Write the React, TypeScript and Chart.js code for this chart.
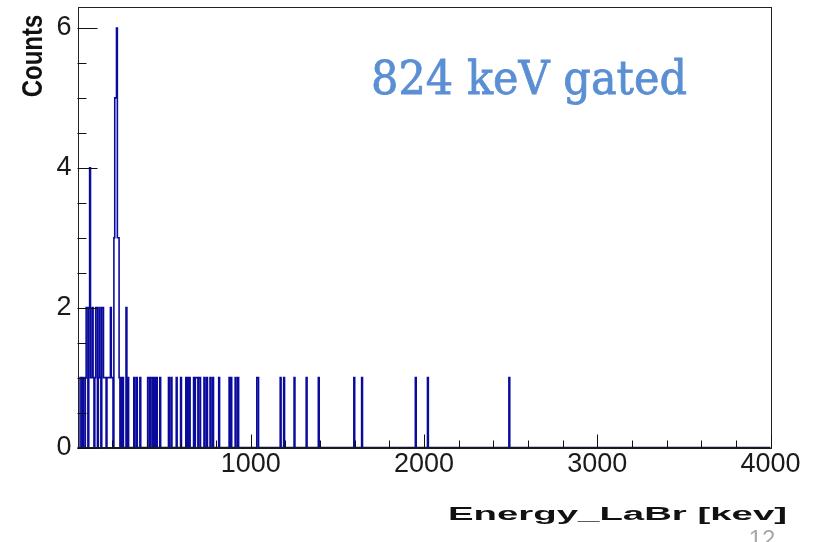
import React, { useEffect, useRef } from "react";
import { Chart, registerables } from "chart.js";

Chart.register(...registerables);

// Histogram: lower edges (keV) of non-empty 5 keV bins, and their counts
const binWidth = 5;
const binLows = [
  15, 20, 30, 45, 50, 55, 65, 70, 75, 80, 85, 90, 100, 105, 110, 120, 125, 130, 140, 145,
  150, 155, 160, 170, 175, 180, 185, 190, 195, 200, 210, 215, 220, 225, 230, 235, 240, 250, 260, 280,
  290, 325, 340, 360, 405, 410, 420, 425, 435, 445, 455, 475, 525, 540, 570, 595, 625, 635, 645, 670,
  680, 685, 690, 700, 705, 730, 745, 765, 780, 815, 875, 885, 910, 925, 1035, 1040, 1170, 1190, 1250, 1320,
  1390, 1595, 1640, 1950, 2020, 2490,
];
const binCounts = [
  1, 1, 1, 1, 2, 2, 2, 4, 1, 1, 2, 1, 1, 2, 2, 1, 2, 1, 2, 2,
  1, 1, 1, 1, 1, 1, 1, 2, 1, 1, 3, 5, 5, 6, 3, 3, 1, 1, 1, 2,
  1, 1, 1, 1, 1, 1, 1, 1, 1, 1, 1, 1, 1, 1, 1, 1, 1, 1, 1, 1,
  1, 1, 1, 1, 1, 1, 1, 1, 1, 1, 1, 1, 1, 1, 1, 1, 1, 1, 1, 1,
  1, 1, 1, 1, 1, 1,
];

const xMin = 0;
const xMax = 4000;
const yMin = 0;
const yMax = 6.3;
const xMajorTicks = [1000, 2000, 3000, 4000];
const xMinorStep = 200;
const yMajorTicks = [0, 2, 4, 6];
const yMinorStep = 0.5;

const xTitle = "Energy_LaBr [kev]";
const yTitle = "Counts";
const annotation = "824 keV gated";
const pageNumber = "12";

function buildPoints() {
  const nBins = Math.round((xMax - xMin) / binWidth);
  const counts = new Array(nBins).fill(0);
  binLows.forEach((lo, i) => {
    const idx = Math.round((lo - xMin) / binWidth);
    if (idx >= 0 && idx < nBins) counts[idx] = binCounts[i];
  });
  const pts = counts.map((c, i) => ({ x: xMin + i * binWidth, y: c }));
  pts.push({ x: xMax, y: 0 });
  return pts;
}

const rootStyle = {
  id: "rootStyle",
  afterDraw(chart: any) {
    const ctx: CanvasRenderingContext2D = chart.ctx;
    const xs = chart.scales.x;
    const ys = chart.scales.y;
    const area = chart.chartArea;
    ctx.save();

    // frame
    ctx.strokeStyle = "#222";
    ctx.lineWidth = 1;
    ctx.strokeRect(
      Math.round(area.left) + 0.5,
      Math.round(area.top) + 0.5,
      Math.round(area.right - area.left),
      Math.round(area.bottom - area.top)
    );
    // bottom axis over the histogram's zero line
    ctx.strokeStyle = "#1a1a1a";
    ctx.lineWidth = 2;
    ctx.beginPath();
    ctx.moveTo(area.left, Math.round(area.bottom));
    ctx.lineTo(area.right, Math.round(area.bottom));
    ctx.stroke();

    // x ticks (inside)
    ctx.strokeStyle = "#111";
    ctx.lineWidth = 1;
    ctx.beginPath();
    for (let v = xMin + xMinorStep; v <= xMax + 1e-6; v += xMinorStep) {
      const px = Math.round(xs.getPixelForValue(v)) + 0.5;
      const major = xMajorTicks.includes(v);
      const len = major ? 13 : 7;
      ctx.moveTo(px, area.bottom);
      ctx.lineTo(px, area.bottom - len);
    }
    // y ticks (inside)
    for (let v = yMin; v <= yMax + 1e-6; v += yMinorStep) {
      const py = Math.round(ys.getPixelForValue(v)) + 0.5;
      const major = yMajorTicks.includes(v);
      const len = major ? 20 : 9;
      ctx.moveTo(area.left, py);
      ctx.lineTo(area.left + len, py);
    }
    ctx.stroke();

    // tick labels
    ctx.fillStyle = "#1a1a1a";
    ctx.font = "27px 'Liberation Sans', Arial, sans-serif";
    ctx.textAlign = "center";
    ctx.textBaseline = "top";
    xMajorTicks.forEach((v) => {
      ctx.fillText(String(v), xs.getPixelForValue(v), area.bottom + 4);
    });
    ctx.textAlign = "right";
    ctx.textBaseline = "middle";
    yMajorTicks.forEach((v) => {
      ctx.fillText(String(v), area.left - 6, ys.getPixelForValue(v));
    });

    // y title (rotated)
    ctx.save();
    ctx.fillStyle = "#111";
    ctx.font = "bold 24px 'Liberation Sans', Arial, sans-serif";
    ctx.translate(41.5, 56);
    ctx.rotate(-Math.PI / 2);
    ctx.scale(1, 1.25);
    ctx.textAlign = "center";
    ctx.textBaseline = "alphabetic";
    ctx.fillText(yTitle, 0, 0);
    ctx.restore();

    // x title (wide)
    ctx.save();
    ctx.fillStyle = "#111";
    ctx.font = "bold 18px 'Liberation Sans', Arial, sans-serif";
    const w = ctx.measureText(xTitle).width;
    const targetW = 339;
    ctx.translate(448, 519.5);
    ctx.scale(targetW / w, 1);
    ctx.textAlign = "left";
    ctx.textBaseline = "alphabetic";
    ctx.fillText(xTitle, 0, 0);
    ctx.restore();

    // annotation
    ctx.save();
    ctx.fillStyle = "rgb(91,143,212)";
    ctx.strokeStyle = "rgb(91,143,212)";
    ctx.lineWidth = 0.8;
    ctx.font = "46px 'DejaVu Serif', serif";
    ctx.textAlign = "left";
    ctx.textBaseline = "alphabetic";
    ctx.fillText(annotation, 371, 93.5, 316);
    ctx.strokeText(annotation, 371, 93.5, 316);
    ctx.restore();

    // page number (cut off)
    ctx.fillStyle = "#a8a8a8";
    ctx.font = "24px 'Liberation Sans', Arial, sans-serif";
    ctx.textAlign = "center";
    ctx.textBaseline = "alphabetic";
    ctx.fillText(pageNumber, 762, 547);

    ctx.restore();
  },
};

export default function App() {
  const ref = useRef<HTMLCanvasElement | null>(null);
  useEffect(() => {
    if (!ref.current) return;
    const chart = new Chart(ref.current, {
      type: "line",
      data: {
        datasets: [
          {
            data: buildPoints(),
            borderColor: "#0a0a9c",
            borderWidth: 1.6,
            pointRadius: 0,
            fill: false,
            stepped: "before",
            tension: 0,
          },
        ],
      },
      options: {
        animation: false,
        responsive: false,
        devicePixelRatio: 1,
        parsing: true,
        layout: { padding: { left: 77.5, top: 7, right: 44.5, bottom: 94.5 } },
        scales: {
          x: { type: "linear", min: xMin, max: xMax, display: false },
          y: { type: "linear", min: yMin, max: yMax, display: false },
        },
        plugins: {
          legend: { display: false },
          tooltip: { enabled: false },
        },
      },
      plugins: [rootStyle],
    });
    return () => chart.destroy();
  }, []);
  return (
    <div style={{ position: "absolute", left: 0, top: 0, width: 815, height: 542, background: "#fff" }}>
      <canvas ref={ref} width={815} height={542} />
    </div>
  );
}
